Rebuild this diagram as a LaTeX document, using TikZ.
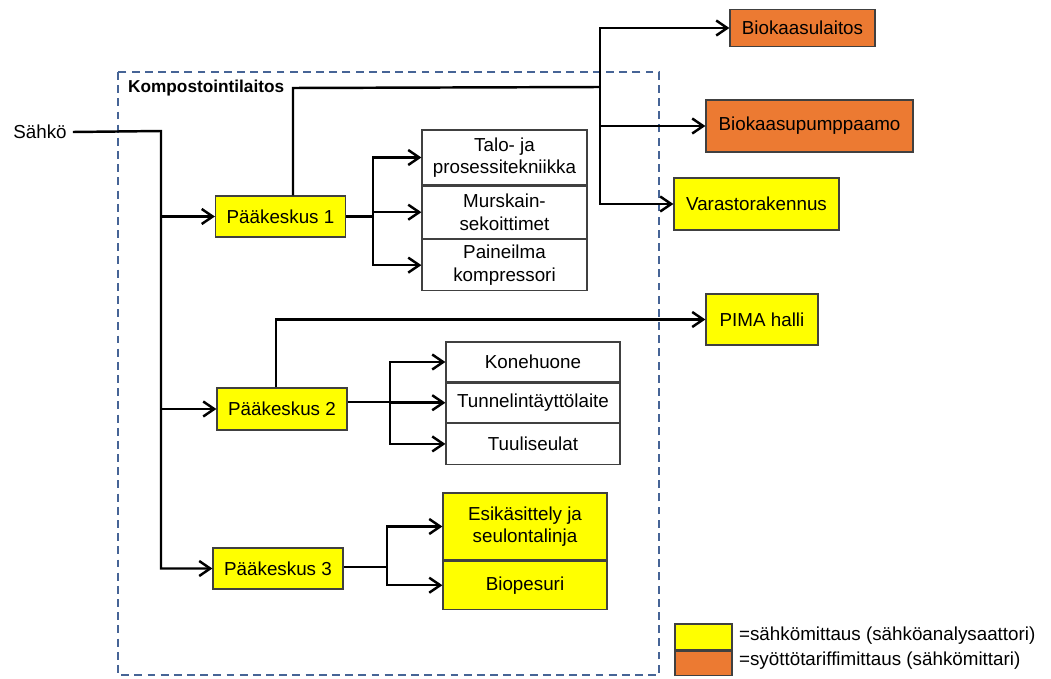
\documentclass[tikz,border=0pt]{standalone}
\usepackage{fontspec}
\setmainfont{Liberation Sans}
\usepackage{xcolor}
\usepackage{tikz}
\usetikzlibrary{arrows.meta, positioning}
\definecolor{mittausyellow}{RGB}{255,255,0}
\definecolor{tariffiorange}{RGB}{236,122,50}
\definecolor{rajablue}{RGB}{70,100,150}
\tikzstyle{keskus} = [rectangle,
minimum width=2.6cm,
minimum height=0.82cm,
text centered,
line width=0.7pt,
draw=black!75, fill=mittausyellow]
\tikzstyle{kuorma} = [rectangle,
text centered,
align=center,
line width=0.7pt,
draw=black!75, fill=white]
\tikzstyle{mitattu} = [rectangle,
text centered,
align=center,
line width=0.7pt,
draw=black!75, fill=mittausyellow]
\tikzstyle{tariffi} = [rectangle,
text centered,
line width=0.7pt,
draw=black!75, fill=tariffiorange]
\tikzstyle{arrow} = [line width=1.4pt,-{Straight Barb[length=2.2mm,width=3mm]}]
\tikzstyle{line} = [line width=1.4pt]

\begin{document}
\begin{tikzpicture}[x=0.02cm, y=-0.02cm, font=\fontsize{10.7}{12.6}\selectfont]
\useasboundingbox (0,0) rectangle (1051,679);
% raja
\draw[rajablue, line width=1pt, dash pattern=on 4.5pt off 3pt] (118,72) rectangle (659,675);
\node (laitos) [anchor=west, font=\fontsize{9.8}{12}\selectfont\bfseries] at (122,88) {Kompostointilaitos};
\node (sahko) at (40,132) {Sähkö};

% paakeskukset
\node (pk1) [keskus] at (280.5,216.5) {Pääkeskus 1};
\node (pk2) [keskus, minimum height=0.84cm] at (282,409) {Pääkeskus 2};
\node (pk3) [keskus] at (278,568.5) {Pääkeskus 3};

% kuormat
\node (talo) [kuorma, minimum width=3.3cm, minimum height=1.1cm] at (504.5,157.5) {Talo- ja\\prosessitekniikka};
\node (murskain) [kuorma, minimum width=3.3cm, minimum height=1.04cm, below=0pt of talo] {Murskain-\\sekoittimet};
\node (paineilma) [kuorma, minimum width=3.3cm, minimum height=1.02cm, below=0pt of murskain] {Paineilma\\kompressori};
\node (kone) [kuorma, minimum width=3.48cm, minimum height=0.8cm] at (533,362) {Konehuone};
\node (tunneli) [kuorma, minimum width=3.48cm, minimum height=0.78cm, below=0pt of kone] {Tunnelintäyttölaite};
\node (tuuli) [kuorma, minimum width=3.48cm, minimum height=0.82cm, below=0pt of tunneli] {Tuuliseulat};
\node (esi) [mitattu, minimum width=3.28cm, minimum height=1.34cm] at (525,526.5) {Esikäsittely ja\\seulontalinja};
\node (biopesuri) [mitattu, minimum width=3.28cm, minimum height=0.96cm, below=0pt of esi] {Biopesuri};

% ulkoiset
\node (biolaitos) [tariffi, minimum width=2.9cm, minimum height=0.74cm] at (802.5,28) {Biokaasulaitos};
\node (pumppaamo) [tariffi, minimum width=4.14cm, minimum height=1.04cm] at (809.5,126) {Biokaasupumppaamo};
\node (varasto) [mitattu, minimum width=3.3cm, minimum height=1.04cm] at (756.5,204) {Varastorakennus};
\node (pima) [mitattu, minimum width=2.24cm, minimum height=1.02cm] at (762,319.5) {PIMA halli};

% selite
\node (selite1) [mitattu, minimum width=1.14cm, minimum height=0.52cm] at (703.5,637) {};
\node (selite2) [tariffi, minimum width=1.14cm, minimum height=0.48cm, below=0pt of selite1] {};
\node (selite1txt) [anchor=west, inner sep=1pt] at (737,636) {=sähkömittaus (sähköanalysaattori)};
\node (selite2txt) [anchor=west, inner sep=1pt] at (737,661) {=syöttötariffimittaus (sähkömittari)};

% syotto
\coordinate (runko) at (161,131);
\draw [arrow] (sahko.east) -- (runko) |- (pk3.west);
\draw [arrow] (runko |- pk1) -- (pk1.west);
\draw [arrow] (runko |- pk2) -- (pk2.west);

% pk1
\coordinate (haara1) at (373,216.5);
\draw [line] (pk1.east) -- (haara1);
\draw [arrow] (haara1) |- (talo.west);
\draw [arrow] (haara1) |- (murskain.west);
\draw [arrow] (haara1) |- (paineilma.west);
\coordinate (nousu1) at (293,88);
\coordinate (haara0) at (600,87);
\draw [line] (pk1.north -| nousu1) -- (nousu1) -- (haara0);
\draw [arrow] (haara0) |- (biolaitos.west);
\draw [arrow] (haara0) |- (pumppaamo.west);
\draw [arrow] (haara0) |- (varasto.west);

% pk2
\coordinate (haara2) at (390,402);
\draw [line] (haara2 -| pk2.east) -- (haara2);
\draw [arrow] (haara2) |- (kone.west);
\draw [arrow] (haara2) |- (tunneli.west);
\draw [arrow] (haara2) |- (tuuli.west);
\coordinate (nousu2) at (276,318);
\draw [arrow] (pk2.north -| nousu2) |- (pima.west);

% pk3
\coordinate (haara3) at (387,567);
\draw [line] (haara3 -| pk3.east) -- (haara3);
\draw [arrow] (haara3) |- (esi.west);
\draw [arrow] (haara3) |- (biopesuri.west);
\end{tikzpicture}
\end{document}
